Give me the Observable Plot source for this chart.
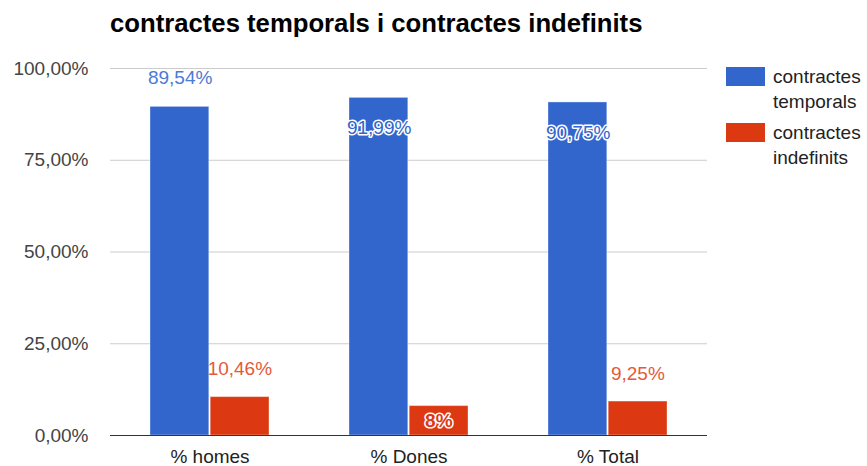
<!DOCTYPE html>
<html>
<head>
<meta charset="utf-8">
<script src="https://cdn.jsdelivr.net/npm/d3@7"></script>
<script src="https://cdn.jsdelivr.net/npm/@observablehq/plot@0.6"></script>
<style>
  html, body { margin: 0; padding: 0; background: #fff; overflow: hidden; }
  #wrap { position: relative; width: 867px; height: 466px; font-family: "Liberation Sans", Arial, sans-serif; }
  #title { position: absolute; left: 110px; top: 9px; font-size: 25.7px; font-weight: bold; color: #000; white-space: nowrap; }
  #chart { position: absolute; left: 0; top: 0; }
  .leg { position: absolute; left: 726px; display: flex; align-items: flex-start; }
  .sw { width: 39px; height: 19px; margin-top: 3px; }
  .lt { margin-left: 8px; font-size: 19px; line-height: 25px; color: #222; white-space: nowrap; }
</style>
</head>
<body>
<div id="wrap">
  <div id="chart"></div>
  <div id="title">contractes temporals i contractes indefinits</div>
  <div id="legend"></div>
</div>
<script>
const categories = ["% homes", "% Dones", "% Total"];
const seriesNames = ["contractes temporals", "contractes indefinits"];
const temporals = [89.54, 91.99, 90.75];
const indefinits = [10.46, 8.01, 9.25];
const labelsTemporals = ["89,54%", "91,99%", "90,75%"];
const labelsIndefinits = ["10,46%", "8%", "9,25%"];
const yTicks = [0, 25, 50, 75, 100];
const colors = ["#3366cc", "#dc3912"];

const W = 867, H = 466;
const mL = 110, mR = 160, mT = 68, mB = 31;
const step = (W - mL - mR) / categories.length;
const bw = step * 0.6;
const half = bw / 2;

const tData = categories.map((c, i) => ({cat: c, v: temporals[i], lab: labelsTemporals[i], i}));
const iData = categories.map((c, i) => ({cat: c, v: indefinits[i], lab: labelsIndefinits[i], i}));

const fmt = d => d.toFixed(2).replace(".", ",") + "%";

const chart = Plot.plot({
  width: W, height: H,
  marginLeft: mL, marginRight: mR, marginTop: mT, marginBottom: mB,
  style: {fontFamily: "Liberation Sans, Arial, sans-serif", background: "transparent"},
  x: {domain: categories, paddingInner: 0.4, paddingOuter: 0.2},
  y: {domain: [0, 100]},
  marks: [
    Plot.ruleY(yTicks.filter(d => d > 0), {stroke: "#cccccc", strokeWidth: 1}),
    Plot.barY(tData, {x: "cat", y: "v", fill: colors[0], insetRight: half + 0.5, stroke: "#ffffff", strokeOpacity: 0.35}),
    Plot.barY(iData, {x: "cat", y: "v", fill: colors[1], insetLeft: half + 0.5, stroke: "#ffffff", strokeOpacity: 0.35}),
    Plot.ruleY([0], {stroke: "#333333", strokeWidth: 1}),
    Plot.axisY({ticks: yTicks, tickFormat: fmt, tickSize: 0, tickPadding: 22, fontSize: 19, fill: "#444", label: null}),
    Plot.axisX({tickSize: 0, tickPadding: 14, fontSize: 19, fill: "#222", label: null}),
    // temporals labels: first above bar, others inside
    Plot.text(tData.filter(d => d.i === 0), {x: "cat", y: "v", text: "lab", dx: -half / 2, dy: -29, fill: "#4a7bd8", fontSize: 19}),
    Plot.text(tData.filter(d => d.i > 0), {x: "cat", y: "v", text: "lab", dx: -half / 2, dy: 30, fill: colors[0], stroke: "#ffffff", strokeWidth: 3, paintOrder: "stroke", fontSize: 19}),
    // indefinits labels
    Plot.text(iData.filter(d => d.i !== 1), {x: "cat", y: "v", text: "lab", dx: half / 2, dy: -28, fill: "#e5593a", fontSize: 19}),
    Plot.text(iData.filter(d => d.i === 1), {x: "cat", y: "v", text: "lab", dx: half / 2, dy: 15, fill: colors[1], stroke: "#ffffff", strokeWidth: 3, paintOrder: "stroke", fontSize: 19, fontWeight: "bold"})
  ]
});
document.getElementById("chart").appendChild(chart);

const leg = document.getElementById("legend");
const legTops = [64, 120];
seriesNames.forEach((s, i) => {
  const words = s.split(" ");
  const row = document.createElement("div");
  row.className = "leg";
  row.style.top = legTops[i] + "px";
  row.innerHTML = `<div class="sw" style="background:${colors[i]}"></div><div class="lt">${words[0]}<br>${words.slice(1).join(" ")}</div>`;
  leg.appendChild(row);
});
</script>
</body>
</html>
